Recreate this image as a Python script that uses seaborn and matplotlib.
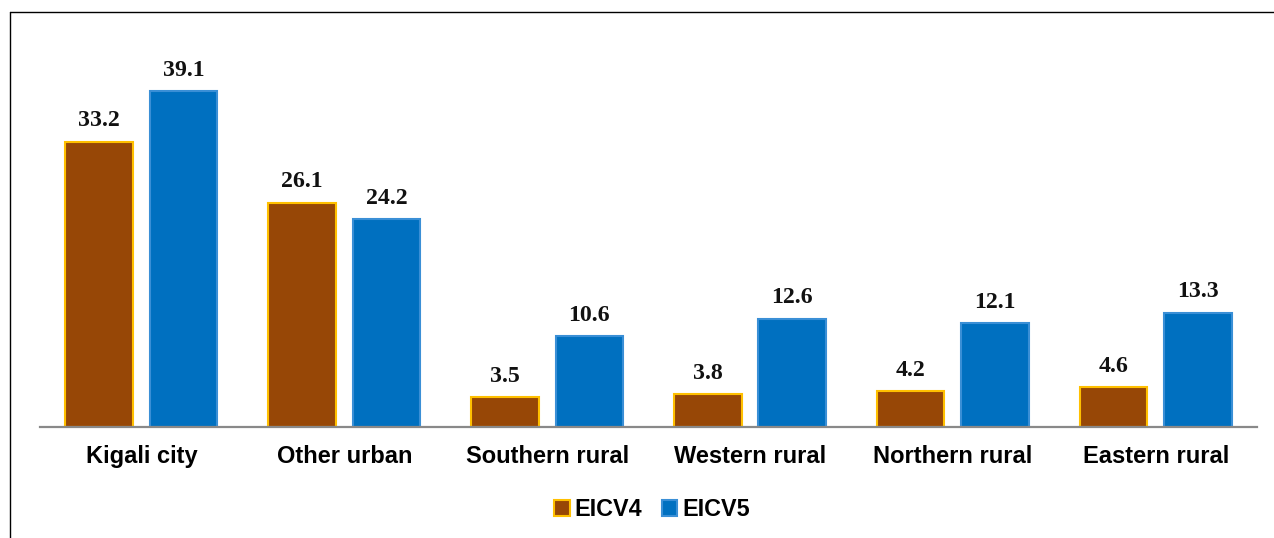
import matplotlib
matplotlib.use("Agg")
import matplotlib.pyplot as plt
from matplotlib.lines import Line2D
import seaborn as sns
import pandas as pd

categories = ["Kigali city", "Other urban", "Southern rural",
              "Western rural", "Northern rural", "Eastern rural"]
eicv4 = [33.2, 26.1, 3.5, 3.8, 4.2, 4.6]
eicv5 = [39.1, 24.2, 10.6, 12.6, 12.1, 13.3]
series = ["EICV4", "EICV5"]

df = pd.DataFrame({
    "area": categories * 2,
    "survey": [series[0]] * len(categories) + [series[1]] * len(categories),
    "value": eicv4 + eicv5,
})

sns.set_theme(style="white")
plt.rcParams["font.family"] = ["Liberation Sans", "DejaVu Sans"]
plt.rcParams["text.color"] = "black"

fig = plt.figure(figsize=(12.74, 5.38), dpi=100)
ax = fig.add_axes([0.0314, 0.2063, 0.9553, 0.7379])

palette = {"EICV4": "#974706", "EICV5": "#0070C0"}
sns.barplot(data=df, x="area", y="value", hue="survey", order=categories,
            hue_order=series, palette=palette, width=0.833, gap=0.2,
            saturation=1, errorbar=None, legend=False, ax=ax)

edges = ["#FFC000", "#3A8FD6"]
for cont, ec in zip(ax.containers, edges):
    for p in cont.patches:
        p.set_edgecolor(ec)
        p.set_linewidth(1.5)
    ax.bar_label(cont, fmt="%.1f", padding=7.5, fontsize=17.2,
                 fontweight="bold", family="Liberation Serif", color="#111111")

ax.set_xlim(-0.5, 5.5)
ax.set_ylim(0, 46.2)
ax.set_xlabel("")
ax.set_ylabel("")
ax.set_yticks([])
for s in ["top", "left", "right"]:
    ax.spines[s].set_visible(False)
ax.spines["bottom"].set_color("#898989")
ax.spines["bottom"].set_linewidth(1.6)
ax.tick_params(axis="x", length=0, pad=13, labelsize=17, labelcolor="#000000")
for lbl in ax.get_xticklabels():
    lbl.set_fontweight("bold")

leg = fig.legend(ax.containers, series, loc="center", bbox_to_anchor=(0.512, 0.053),
                 frameon=False, ncol=2, handlelength=0.65,
                 handleheight=0.65, handletextpad=0.22, columnspacing=0.85,
                 prop={"weight": "bold", "size": 16.8})
for t in leg.get_texts():
    t.set_color("black")

# outer frame lines
fig.add_artist(Line2D([0.0082, 1.0], [0.9768, 0.9768], transform=fig.transFigure,
                      color="black", linewidth=1.0))
fig.add_artist(Line2D([0.0082, 0.0082], [0.0, 0.9768], transform=fig.transFigure,
                      color="black", linewidth=1.0))

fig.savefig("out.png", dpi=100)
